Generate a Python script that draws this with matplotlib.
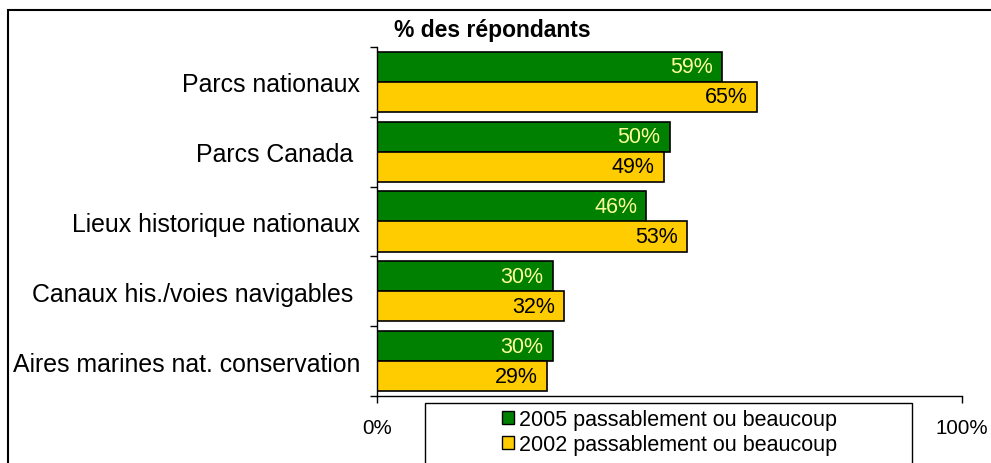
import matplotlib
matplotlib.use("Agg")
import matplotlib.pyplot as plt
from matplotlib.patches import Patch, Rectangle

plt.rcParams['font.family'] = ['Liberation Sans', 'DejaVu Sans']

# donnees
categories = ["Parcs nationaux", "Parcs Canada ", "Lieux historique nationaux",
              "Canaux his./voies navigables ", "Aires marines nat. conservation"]
vals_2005 = [59, 50, 46, 30, 30]
vals_2002 = [65, 49, 53, 32, 29]
serie_2005 = "2005 passablement ou beaucoup"
serie_2002 = "2002 passablement ou beaucoup"
vert = "#008000"
jaune = "#FFCC00"

W, H = 991, 464
fig = plt.figure(figsize=(W / 100, H / 100), dpi=100)
ax = fig.add_axes([377 / W, 1 - 397 / H, 585 / W, 349 / H])

h = 0.43
pos = list(range(len(categories)))
b1 = ax.barh([p - h / 2 for p in pos], vals_2005, height=h, color=vert,
             edgecolor="black", linewidth=1.2)
b2 = ax.barh([p + h / 2 for p in pos], vals_2002, height=h, color=jaune,
             edgecolor="black", linewidth=1.2)

for rect, v in zip(b1, vals_2005):
    ax.annotate(f"{v}%", (v, rect.get_y() + rect.get_height() / 2),
                xytext=(-6.5, 0), textcoords="offset points",
                ha="right", va="center", fontsize=15.5, color="#FFFF99")
for rect, v in zip(b2, vals_2002):
    ax.annotate(f"{v}%", (v, rect.get_y() + rect.get_height() / 2),
                xytext=(-6.5, 0), textcoords="offset points",
                ha="right", va="center", fontsize=15.5, color="black")

ax.set_xlim(0, 100)
ax.set_ylim(len(categories) - 0.5, -0.5)

ax.set_yticks(pos)
ax.set_yticklabels(categories, fontsize=17.9)
ax.set_yticks([p - 0.5 for p in range(len(categories) + 1)], minor=True)
ax.tick_params(axis="y", which="major", length=0, pad=12)
ax.tick_params(axis="y", which="minor", length=5, width=1, direction="out")

ax.set_xticks([0, 100])
ax.set_xticklabels(["0%", "100%"], fontsize=14.8)
ax.tick_params(axis="x", length=5, width=1, direction="out", pad=11)

for s in ["top", "right"]:
    ax.spines[s].set_visible(False)
for s in ["left", "bottom"]:
    ax.spines[s].set_linewidth(1)

fig.text(394 / W, 1 - 30 / H, "% des répondants", fontsize=16.5,
         fontweight="bold", ha="left", va="center")

# cadre exterieur
fig.add_artist(Rectangle((8 / W, -0.1), 2, 1 - 11 / H + 0.1,
                         transform=fig.transFigure, fill=False,
                         edgecolor="black", linewidth=1.5))

# legende
fig.add_artist(Rectangle((425 / W, -0.1), (912 - 425) / W, 1 - 404 / H + 0.1,
                         transform=fig.transFigure, fill=False,
                         edgecolor="black", linewidth=1))
handles = [Patch(facecolor=vert, edgecolor="black", label=serie_2005),
           Patch(facecolor=jaune, edgecolor="black", label=serie_2002)]
fig.legend(handles=handles, loc="upper left",
           bbox_to_anchor=(487 / W, 1 - 395 / H), frameon=False,
           fontsize=15.5, handlelength=0.55, handleheight=0.55,
           handletextpad=0.25, labelspacing=0.2, borderpad=0.2)

fig.savefig("out.png", dpi=100)
